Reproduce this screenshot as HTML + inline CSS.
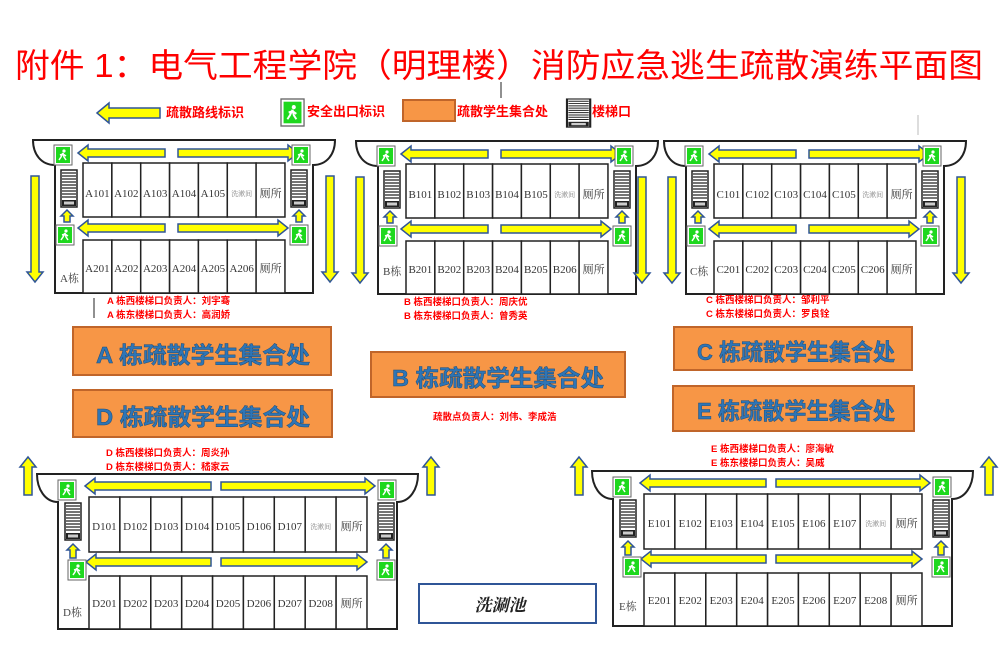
<!DOCTYPE html>
<html><head><meta charset="utf-8"><style>
html,body{margin:0;padding:0;background:#fff;width:1005px;height:663px;overflow:hidden}
svg{display:block}
.rm{font-family:"Liberation Serif","Noto Serif CJK SC",serif;font-size:11px;fill:#333;text-anchor:middle}
.sm{font-family:"Liberation Serif","Noto Serif CJK SC",serif;font-size:7px;fill:#888;text-anchor:middle}
.lb{font-family:"Liberation Serif","Noto Serif CJK SC",serif;font-size:11px;fill:#444}
.red{font-family:"Liberation Sans","Noto Sans CJK SC",sans-serif;font-size:9.5px;fill:#ff0000;font-weight:bold}
.leg{font-family:"Liberation Sans","Noto Sans CJK SC",sans-serif;font-size:13px;fill:#ff0000;font-weight:bold}
.ban{font-family:"Liberation Sans","Noto Sans CJK SC",sans-serif;font-size:23px;fill:#2e75b6;font-weight:bold;stroke:#1f4e79;stroke-width:0.5}
</style></head><body>
<svg width="1005" height="663" viewBox="0 0 1005 663" xmlns="http://www.w3.org/2000/svg">
<defs>
<g id="ex">
<rect x="0" y="0" width="18" height="20" fill="#fff" stroke="#666" stroke-width="1"/>
<rect x="2" y="2" width="14" height="16" fill="#1ed81e"/>
<circle cx="10" cy="6" r="1.6" fill="#fff"/>
<path d="M9,8 L7,12 L5,15 M9,8 L10,12 L12,15 M9,9 L6,10 M9,9 L12,11" stroke="#fff" stroke-width="1.5" fill="none"/>
</g>
<g id="st">
<rect x="0" y="0" width="16" height="37" fill="#fff" stroke="#222" stroke-width="1.5"/>
<path d="M1,3H15M1,6H15M1,9H15M1,12H15M1,15H15M1,18H15M1,21H15M1,24H15M1,27H15" stroke="#222" stroke-width="1.3"/>
<rect x="1" y="30" width="14" height="6" fill="#222"/>
<rect x="3" y="31.5" width="10" height="3" fill="#ccc"/>
</g>
<g id="sb">
<path d="M22,153 V25 C8,25 0,14 0,0 H302 C302,14 294,25 280,25 V153 Z" fill="#fff" stroke="#222" stroke-width="2"/>
<g fill="#fff" stroke="#222" stroke-width="1.5">
<rect x="50" y="23" width="28.86" height="54"/><rect x="78.86" y="23" width="28.86" height="54"/><rect x="107.7" y="23" width="28.86" height="54"/><rect x="136.6" y="23" width="28.86" height="54"/><rect x="165.4" y="23" width="28.86" height="54"/><rect x="194.3" y="23" width="28.86" height="54"/><rect x="223.1" y="23" width="28.86" height="54"/>
<rect x="50" y="100" width="28.86" height="53"/><rect x="78.86" y="100" width="28.86" height="53"/><rect x="107.7" y="100" width="28.86" height="53"/><rect x="136.6" y="100" width="28.86" height="53"/><rect x="165.4" y="100" width="28.86" height="53"/><rect x="194.3" y="100" width="28.86" height="53"/><rect x="223.1" y="100" width="28.86" height="53"/>
</g>
<g fill="#ffff00" stroke="#2f5597" stroke-width="1.5">
<polygon points="45,13 55,5 55,9 132,9 132,17 55,17 55,21"/>
<polygon points="265,13 255,5 255,9 145,9 145,17 255,17 255,21"/>
<polygon points="45,88 55,80 55,84 132,84 132,92 55,92 55,96"/>
<polygon points="255,88 245,80 245,84 145,84 145,92 245,92 245,96"/>
<polygon points="34,70 40,76 37,76 37,82 31,82 31,76 28,76"/>
<polygon points="266,70 272,76 269,76 269,82 263,82 263,76 260,76"/>
</g>
<use href="#st" x="28" y="30"/><use href="#st" x="258" y="30"/>
<use href="#ex" x="21" y="5"/><use href="#ex" x="259" y="5"/>
<use href="#ex" x="23" y="85"/><use href="#ex" x="257" y="85"/>
</g>
<polygon id="dn" points="-4,0 4,0 4,96 8,96 0,106 -8,96 -4,96" fill="#ffff00" stroke="#2f5597" stroke-width="1.5"/>
<g id="bb">
<path d="M21,155 V28 C8,28 0,15 0,0 H381 C381,15 373,28 360,28 V155 Z" fill="#fff" stroke="#222" stroke-width="2"/>
<g fill="#fff" stroke="#222" stroke-width="1.5">
<rect x="52" y="23" width="30.89" height="55"/><rect x="82.89" y="23" width="30.89" height="55"/><rect x="113.8" y="23" width="30.89" height="55"/><rect x="144.7" y="23" width="30.89" height="55"/><rect x="175.6" y="23" width="30.89" height="55"/><rect x="206.4" y="23" width="30.89" height="55"/><rect x="237.3" y="23" width="30.89" height="55"/><rect x="268.2" y="23" width="30.89" height="55"/><rect x="299.1" y="23" width="30.89" height="55"/>
<rect x="52" y="102" width="30.89" height="53"/><rect x="82.89" y="102" width="30.89" height="53"/><rect x="113.8" y="102" width="30.89" height="53"/><rect x="144.7" y="102" width="30.89" height="53"/><rect x="175.6" y="102" width="30.89" height="53"/><rect x="206.4" y="102" width="30.89" height="53"/><rect x="237.3" y="102" width="30.89" height="53"/><rect x="268.2" y="102" width="30.89" height="53"/><rect x="299.1" y="102" width="30.89" height="53"/>
</g>
<g fill="#ffff00" stroke="#2f5597" stroke-width="1.5">
<polygon points="48,12 58,4 58,8 174,8 174,16 58,16 58,20"/>
<polygon points="338,12 328,4 328,8 184,8 184,16 328,16 328,20"/>
<polygon points="49,88 59,80 59,84 174,84 174,92 59,92 59,96"/>
<polygon points="330,88 320,80 320,84 184,84 184,92 320,92 320,96"/>
<polygon points="36,70 42,76 39,76 39,84 33,84 33,76 30,76"/>
<polygon points="349,70 355,76 352,76 352,84 346,84 346,76 343,76"/>
</g>
<use href="#st" x="28" y="29"/><use href="#st" x="341" y="29"/>
<use href="#ex" x="21" y="6"/><use href="#ex" x="341" y="6"/>
<use href="#ex" x="31" y="86"/><use href="#ex" x="340" y="86"/>
</g>
</defs>

<text x="15" y="77" font-family="Liberation Sans, Noto Sans CJK SC, sans-serif" font-size="33" fill="#ff0000" textLength="968" lengthAdjust="spacingAndGlyphs">附件 1：电气工程学院（明理楼）消防应急逃生疏散演练平面图</text>

<!-- legend -->
<polygon points="97,113 109,103 109,108 160,108 160,118 109,118 109,123" fill="#ffff00" stroke="#2f5597" stroke-width="1.5"/>
<text class="leg" x="166" y="117">疏散路线标识</text>
<g transform="translate(281,99) scale(1.28,1.35)"><use href="#ex"/></g>
<text class="leg" x="307" y="116">安全出口标识</text>
<rect x="403" y="100" width="52" height="21" fill="#f79646" stroke="#c0652a" stroke-width="2"/>
<text class="leg" x="457" y="116">疏散学生集合处</text>
<g transform="translate(567,99) scale(1.45,0.76)"><use href="#st"/></g>
<text class="leg" x="592" y="116">楼梯口</text>

<!-- A B C -->
<use href="#sb" x="33" y="140"/>
<use href="#sb" x="356" y="141"/>
<use href="#sb" x="664" y="141"/>
<use href="#dn" x="35" y="176"/><use href="#dn" x="330" y="176"/>
<use href="#dn" x="360" y="177"/><use href="#dn" x="642" y="177"/>
<use href="#dn" x="672" y="177"/><use href="#dn" x="961" y="177"/>
<g class="rm">
<text x="97.4" y="197">A101</text><text x="126.3" y="197">A102</text><text x="155.2" y="197">A103</text><text x="184" y="197">A104</text><text x="212.9" y="197">A105</text><text x="241.7" y="196" class="sm">洗漱间</text><text x="270.6" y="197">厕所</text>
<text x="97.4" y="272">A201</text><text x="126.3" y="272">A202</text><text x="155.2" y="272">A203</text><text x="184" y="272">A204</text><text x="212.9" y="272">A205</text><text x="241.7" y="272">A206</text><text x="270.6" y="272">厕所</text>
<text x="420.4" y="198">B101</text><text x="449.3" y="198">B102</text><text x="478.2" y="198">B103</text><text x="507" y="198">B104</text><text x="535.9" y="198">B105</text><text x="564.7" y="197" class="sm">洗漱间</text><text x="593.6" y="198">厕所</text>
<text x="420.4" y="273">B201</text><text x="449.3" y="273">B202</text><text x="478.2" y="273">B203</text><text x="507" y="273">B204</text><text x="535.9" y="273">B205</text><text x="564.7" y="273">B206</text><text x="593.6" y="273">厕所</text>
<text x="728.4" y="198">C101</text><text x="757.3" y="198">C102</text><text x="786.2" y="198">C103</text><text x="815" y="198">C104</text><text x="843.9" y="198">C105</text><text x="872.7" y="197" class="sm">洗漱间</text><text x="901.6" y="198">厕所</text>
<text x="728.4" y="273">C201</text><text x="757.3" y="273">C202</text><text x="786.2" y="273">C203</text><text x="815" y="273">C204</text><text x="843.9" y="273">C205</text><text x="872.7" y="273">C206</text><text x="901.6" y="273">厕所</text>
</g>
<text class="lb" x="60" y="282">A栋</text>
<text class="lb" x="383" y="275">B栋</text>
<text class="lb" x="690" y="275">C栋</text>

<!-- D E -->
<use href="#bb" x="37" y="474"/>
<use href="#bb" x="592" y="471"/>
<g class="rm">
<text x="104.4" y="530">D101</text><text x="135.3" y="530">D102</text><text x="166.2" y="530">D103</text><text x="197.1" y="530">D104</text><text x="228" y="530">D105</text><text x="258.9" y="530">D106</text><text x="289.8" y="530">D107</text><text x="320.7" y="529" class="sm">洗漱间</text><text x="351.6" y="530">厕所</text>
<text x="104.4" y="607">D201</text><text x="135.3" y="607">D202</text><text x="166.2" y="607">D203</text><text x="197.1" y="607">D204</text><text x="228" y="607">D205</text><text x="258.9" y="607">D206</text><text x="289.8" y="607">D207</text><text x="320.7" y="607">D208</text><text x="351.6" y="607">厕所</text>
<text x="659.4" y="527">E101</text><text x="690.3" y="527">E102</text><text x="721.2" y="527">E103</text><text x="752.1" y="527">E104</text><text x="783" y="527">E105</text><text x="813.9" y="527">E106</text><text x="844.8" y="527">E107</text><text x="875.7" y="526" class="sm">洗漱间</text><text x="906.6" y="527">厕所</text>
<text x="659.4" y="604">E201</text><text x="690.3" y="604">E202</text><text x="721.2" y="604">E203</text><text x="752.1" y="604">E204</text><text x="783" y="604">E205</text><text x="813.9" y="604">E206</text><text x="844.8" y="604">E207</text><text x="875.7" y="604">E208</text><text x="906.6" y="604">厕所</text>
</g>
<text class="lb" x="63" y="616">D栋</text>
<text class="lb" x="619" y="610">E栋</text>

<g fill="#ffff00" stroke="#2f5597" stroke-width="1.5">
<polygon points="28,457 36,467 32,467 32,495 24,495 24,467 20,467"/>
<polygon points="431,457 439,467 435,467 435,495 427,495 427,467 423,467"/>
<polygon points="579,457 587,467 583,467 583,495 575,495 575,467 571,467"/>
<polygon points="989,457 997,467 993,467 993,495 985,495 985,467 981,467"/>
</g>

<!-- red text -->
<text class="red" x="107" y="304">A 栋西楼梯口负责人：刘宇骞</text>
<text class="red" x="107" y="318">A 栋东楼梯口负责人：高润娇</text>
<text class="red" x="404" y="305">B 栋西楼梯口负责人：周庆优</text>
<text class="red" x="404" y="319">B 栋东楼梯口负责人：曾秀英</text>
<text class="red" x="706" y="303">C 栋西楼梯口负责人：邹利平</text>
<text class="red" x="706" y="317">C 栋东楼梯口负责人：罗良铨</text>
<text class="red" x="106" y="456">D 栋西楼梯口负责人：周炎孙</text>
<text class="red" x="106" y="470">D 栋东楼梯口负责人：嵇家云</text>
<text class="red" x="711" y="452">E 栋西楼梯口负责人：廖海敏</text>
<text class="red" x="711" y="466">E 栋东楼梯口负责人：吴威</text>
<text class="red" x="433" y="420">疏散点负责人：刘伟、李成浩</text>

<!-- banners -->
<g fill="#f79646" stroke="#c0652a" stroke-width="2">
<rect x="73" y="327" width="258" height="48"/>
<rect x="73" y="390" width="259" height="47"/>
<rect x="371" y="352" width="254" height="45"/>
<rect x="674" y="327" width="238" height="43"/>
<rect x="673" y="386" width="241" height="45"/>
</g>
<text class="ban" x="96" y="363" textLength="214" lengthAdjust="spacingAndGlyphs">A 栋疏散学生集合处</text>
<text class="ban" x="96" y="425" textLength="214" lengthAdjust="spacingAndGlyphs">D 栋疏散学生集合处</text>
<text class="ban" x="392" y="386" textLength="212" lengthAdjust="spacingAndGlyphs">B 栋疏散学生集合处</text>
<text class="ban" x="697" y="360" textLength="198" lengthAdjust="spacingAndGlyphs">C 栋疏散学生集合处</text>
<text class="ban" x="697" y="419" textLength="198" lengthAdjust="spacingAndGlyphs">E 栋疏散学生集合处</text>

<!-- wash basin -->
<rect x="419" y="584" width="177" height="39" fill="#fff" stroke="#2f5597" stroke-width="2"/>
<text x="500" y="611" font-family="Liberation Serif, Noto Serif CJK SC, serif" font-size="17" font-style="italic" font-weight="bold" fill="#222" text-anchor="middle">洗涮池</text>

<line x1="501" y1="82" x2="501" y2="98" stroke="#222" stroke-width="1"/>
<line x1="94" y1="298" x2="94" y2="318" stroke="#222" stroke-width="1"/>
<line x1="918" y1="115" x2="918" y2="135" stroke="#bbb" stroke-width="1"/>
</svg>
</body></html>
